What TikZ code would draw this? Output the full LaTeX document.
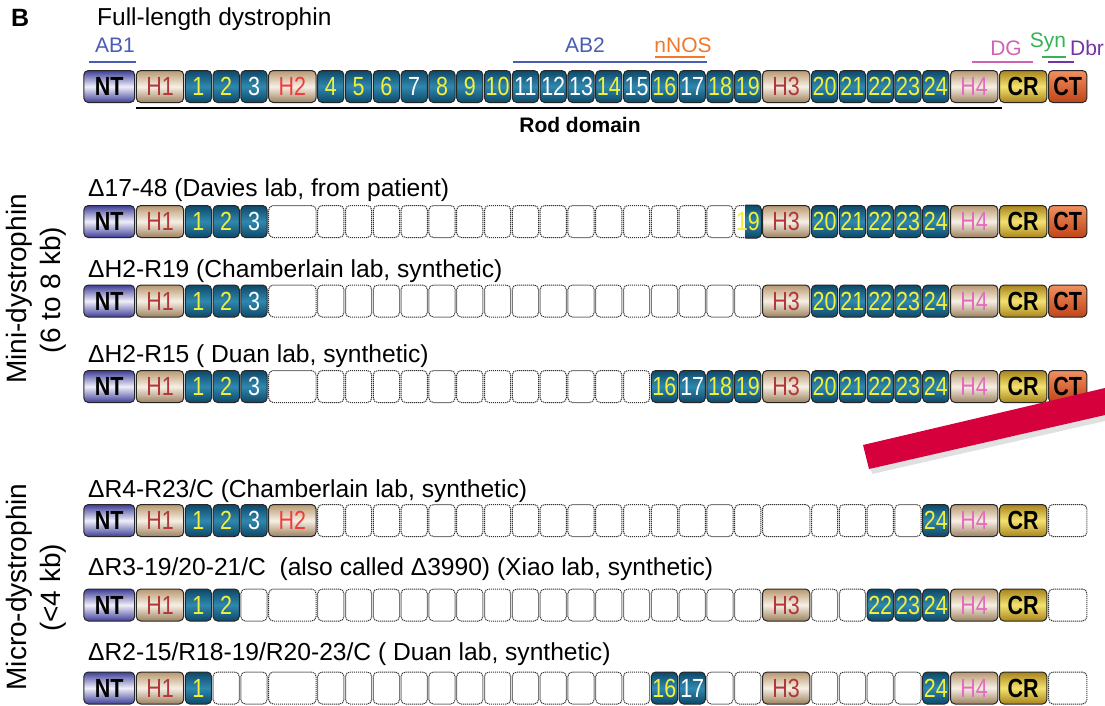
\documentclass[tikz,border=0pt]{standalone}
\usepackage{fontspec}
\setmainfont{Liberation Sans}
\usepackage{graphicx}
\definecolor{rdark}{HTML}{0E4868}
\definecolor{rmid}{HTML}{2F88AE}
\definecolor{ntdark}{HTML}{3E3E98}
\definecolor{ntmid}{HTML}{EEEEFA}
\definecolor{hdark}{HTML}{B89870}
\definecolor{hmid}{HTML}{F7EFE4}
\definecolor{crdark}{HTML}{A8841C}
\definecolor{crmid}{HTML}{F4E270}
\definecolor{cttop}{HTML}{F09060}
\definecolor{ctbot}{HTML}{C04418}
\definecolor{numy}{HTML}{F2F03A}
\definecolor{hred}{HTML}{B03838}
\definecolor{hbright}{HTML}{F03C3C}
\definecolor{hpink}{HTML}{E46CBE}
\definecolor{abblue}{HTML}{4A5CB4}
\definecolor{nnos}{HTML}{F0782A}
\definecolor{dgpink}{HTML}{D062B4}
\definecolor{syngreen}{HTML}{34B454}
\definecolor{dbrpurple}{HTML}{7434A4}
\definecolor{redbar}{HTML}{D5003C}
\newcommand{\boxtxt}[1]{\scalebox{1}[1.22]{#1}}
\newcommand{\dbox}[4]{%
  \edef\bx{\csname cx@#2\endcsname}\edef\bw{\csname cw@#2\endcsname}%
  \node[#3, minimum width=\bw pt] (#1-#2) at (\bx,\rowy) {\boxtxt{#4}};}
\newcommand{\drow}[3]{\def\rowy{#2}\foreach \c/\s/\l in {#3}{\dbox{#1}{\c}{\s}{\l}}}
\tikzset{
  dom/.style={draw=black!85, line width=1pt, rounded corners=4.5pt, minimum height=32pt, inner sep=0pt, font=\fontsize{21.5}{21.5}\selectfont},
  rep/.style={dom, top color=rdark, bottom color=rdark, middle color=rmid},
  ry/.style={rep, text=numy},
  rw/.style={rep, text=white},
  hbox/.style={dom, top color=hdark, bottom color=hdark!85!black, middle color=hmid},
  hA/.style={hbox, text=hred},
  hB/.style={hbox, text=hbright},
  hC/.style={hbox, text=hpink},
  nt/.style={dom, top color=ntdark, bottom color=ntdark, middle color=ntmid, font=\fontsize{21.5}{21.5}\selectfont\bfseries},
  cr/.style={dom, top color=crdark, bottom color=crdark, middle color=crmid, font=\fontsize{21.5}{21.5}\selectfont\bfseries},
  ct/.style={dom, top color=cttop, bottom color=ctbot, font=\fontsize{21.5}{21.5}\selectfont\bfseries},
  gone/.style={draw=black!80, dash pattern=on 1.2pt off 0.8pt, line width=1pt, rounded corners=4.5pt, minimum height=32pt, inner sep=0pt, fill=white},
  lab/.style={anchor=base west, inner sep=0pt, font=\fontsize{24.6}{28}\selectfont},
  rot/.style={rotate=90, anchor=base, inner sep=0pt, font=\fontsize{28}{33}\selectfont},
  ann/.style={anchor=base, inner sep=0pt, font=\fontsize{21}{21}\selectfont},
  annline/.style={line width=2.5pt},
}
\begin{document}
\begin{tikzpicture}[x=1pt,y=-1pt]
\useasboundingbox (0,0) rectangle (1105,705);
% column layout
\gdef\curx{83}
\foreach \c/\w in {NT/52.5,H1/49,1/27.8,2/27.8,3/27.8,H2/49,4/27.8,5/27.8,6/27.8,7/27.8,8/27.8,9/27.8,10/27.8,11/27.8,12/27.8,13/27.8,14/27.8,15/27.8,16/27.8,17/27.8,18/27.8,19/27.8,H3/49,20/27.8,21/27.8,22/27.8,23/27.8,24/27.8,H4/49,CR/49,CT/40}{%
  \pgfmathsetmacro\cc{\curx+\w/2}%
  \expandafter\xdef\csname cx@\c\endcsname{\cc}%
  \pgfmathsetmacro\ww{\w-1.6}%
  \expandafter\xdef\csname cw@\c\endcsname{\ww}%
  \pgfmathsetmacro\nx{\curx+\w}%
  \xdef\curx{\nx}}

% headings
\node[anchor=base west, inner sep=0pt, font=\fontsize{25}{25}\selectfont\bfseries] (B) at (11,26) {B};
\node[anchor=base west, inner sep=0pt, font=\fontsize{24.5}{28}\selectfont] (title) at (97,25) {Full-length dystrophin};

% annotations
\node[ann, text=abblue] (ab1) at (115,52) {AB1};
\draw[annline, abblue] (89,62) -- (136,62);
\node[ann, text=abblue] (ab2) at (585,52) {AB2};
\draw[annline, abblue] (513,62) -- (707,62);
\node[ann, text=nnos] (nnos) at (683,52) {nNOS};
\draw[annline, nnos] (655,57) -- (705,57);
\node[ann, text=dgpink] (dg) at (1006,55) {DG};
\draw[annline, dgpink] (972,62) -- (1033,62);
\node[ann, text=syngreen] (syn) at (1048,47) {Syn};
\draw[annline, syngreen] (1042,57) -- (1066,57);
\node[ann, text=dbrpurple] (dbr) at (1087,55) {Dbr};
\draw[annline, dbrpurple] (1048,62) -- (1074,62);

% full-length row
\drow{r0}{86.5}{NT/nt/NT,H1/hA/H1,1/ry/1,2/ry/2,3/rw/3,H2/hB/H2,4/ry/4,5/ry/5,6/ry/6,7/rw/7,8/ry/8,9/ry/9,10/ry/10,11/rw/11,12/rw/12,13/rw/13,14/ry/14,15/rw/15,16/ry/16,17/rw/17,18/ry/18,19/ry/19,H3/hA/H3,20/ry/20,21/ry/21,22/ry/22,23/ry/23,24/ry/24,H4/hC/H4,CR/cr/CR,CT/ct/CT}
\draw[line width=2pt] (136,107.5) coordinate (rodL) -- (1002,107.5) coordinate (rodR);
\node[anchor=base, inner sep=0pt, font=\fontsize{21}{21}\selectfont\bfseries] (rod) at (580,132) {Rod domain};

% mini-dystrophins
\node[lab] (l1) at (88,196) {Δ17-48 (Davies lab, from patient)};
\drow{r1}{221.5}{NT/nt/NT,H1/hA/H1,1/ry/1,2/ry/2,3/rw/3,H2/gone/{},4/gone/{},5/gone/{},6/gone/{},7/gone/{},8/gone/{},9/gone/{},10/gone/{},11/gone/{},12/gone/{},13/gone/{},14/gone/{},15/gone/{},16/gone/{},17/gone/{},18/gone/{},19/gone/{},H3/hA/H3,20/ry/20,21/ry/21,22/ry/22,23/ry/23,24/ry/24,H4/hC/H4,CR/cr/CR,CT/ct/CT}
\begin{scope}
  \clip ([xshift=-16pt,yshift=2pt]r1-19.north east) rectangle ([xshift=2pt,yshift=-2pt]r1-19.south east);
  \path[top color=rdark, bottom color=rdark, middle color=rmid, rounded corners=4.5pt] (r1-19.south west) rectangle (r1-19.north east);
  \draw[black!85, line width=1pt, rounded corners=4.5pt] (r1-19.south west) rectangle (r1-19.north east);
\end{scope}
\node[inner sep=0pt, text=numy, font=\fontsize{21.5}{21.5}\selectfont] (r1-19t) at (r1-19.center) {\boxtxt{19}};

\node[lab] (l2) at (88,277) {ΔH2-R19 (Chamberlain lab, synthetic)};
\drow{r2}{301}{NT/nt/NT,H1/hA/H1,1/ry/1,2/ry/2,3/rw/3,H2/gone/{},4/gone/{},5/gone/{},6/gone/{},7/gone/{},8/gone/{},9/gone/{},10/gone/{},11/gone/{},12/gone/{},13/gone/{},14/gone/{},15/gone/{},16/gone/{},17/gone/{},18/gone/{},19/gone/{},H3/hA/H3,20/ry/20,21/ry/21,22/ry/22,23/ry/23,24/ry/24,H4/hC/H4,CR/cr/CR,CT/ct/CT}

\node[lab] (l3) at (88,362) {ΔH2-R15 ( Duan lab, synthetic)};
\drow{r3}{386.5}{NT/nt/NT,H1/hA/H1,1/ry/1,2/ry/2,3/rw/3,H2/gone/{},4/gone/{},5/gone/{},6/gone/{},7/gone/{},8/gone/{},9/gone/{},10/gone/{},11/gone/{},12/gone/{},13/gone/{},14/gone/{},15/gone/{},16/ry/16,17/rw/17,18/ry/18,19/ry/19,H3/hA/H3,20/ry/20,21/ry/21,22/ry/22,23/ry/23,24/ry/24,H4/hC/H4,CR/cr/CR,CT/ct/CT}

% red pen stroke
\fill[black, opacity=0.12] (866,450) -- (1105,394) -- (1105,421) -- (872,474) -- cycle;
\fill[redbar] (863,445) -- (1105,388) -- (1105,415) -- (869,469) -- cycle;

% micro-dystrophins
\node[lab] (l4) at (88,497) {ΔR4-R23/C (Chamberlain lab, synthetic)};
\drow{r4}{520.5}{NT/nt/NT,H1/hA/H1,1/ry/1,2/ry/2,3/rw/3,H2/hB/H2,4/gone/{},5/gone/{},6/gone/{},7/gone/{},8/gone/{},9/gone/{},10/gone/{},11/gone/{},12/gone/{},13/gone/{},14/gone/{},15/gone/{},16/gone/{},17/gone/{},18/gone/{},19/gone/{},H3/gone/{},20/gone/{},21/gone/{},22/gone/{},23/gone/{},24/ry/24,H4/hC/H4,CR/cr/CR,CT/gone/{}}

\node[lab] (l5) at (88,575) {ΔR3-19/20-21/C\ \ (also called Δ3990) (Xiao lab, synthetic)};
\drow{r5}{605}{NT/nt/NT,H1/hA/H1,1/ry/1,2/ry/2,3/gone/{},H2/gone/{},4/gone/{},5/gone/{},6/gone/{},7/gone/{},8/gone/{},9/gone/{},10/gone/{},11/gone/{},12/gone/{},13/gone/{},14/gone/{},15/gone/{},16/gone/{},17/gone/{},18/gone/{},19/gone/{},H3/hA/H3,20/gone/{},21/gone/{},22/ry/22,23/ry/23,24/ry/24,H4/hC/H4,CR/cr/CR,CT/gone/{}}

\node[lab] (l6) at (88,660) {ΔR2-15/R18-19/R20-23/C ( Duan lab, synthetic)};
\drow{r6}{688}{NT/nt/NT,H1/hA/H1,1/ry/1,2/gone/{},3/gone/{},H2/gone/{},4/gone/{},5/gone/{},6/gone/{},7/gone/{},8/gone/{},9/gone/{},10/gone/{},11/gone/{},12/gone/{},13/gone/{},14/gone/{},15/gone/{},16/ry/16,17/rw/17,18/gone/{},19/gone/{},H3/hA/H3,20/gone/{},21/gone/{},22/gone/{},23/gone/{},24/ry/24,H4/hC/H4,CR/cr/CR,CT/gone/{}}

% side labels
\node[rot] (mini1) at (27,289) {Mini-dystrophin};
\node[rot] (mini2) at (60,290) {(6 to 8 kb)};
\node[rot] (micro1) at (27,587) {Micro-dystrophin};
\node[rot] (micro2) at (60,588) {(<4 kb)};
\end{tikzpicture}
\end{document}
